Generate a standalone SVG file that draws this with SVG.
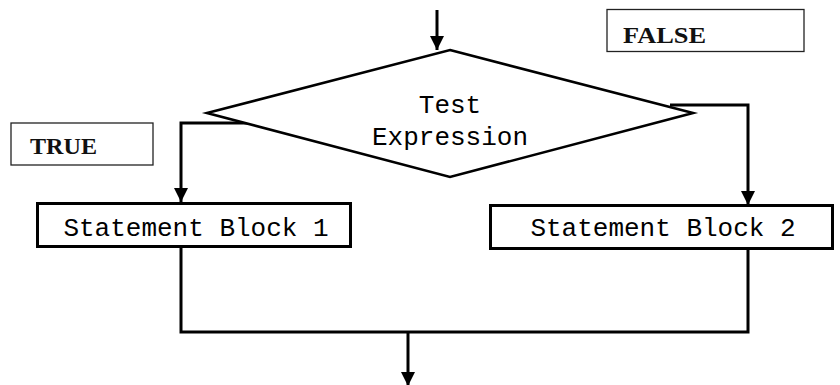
<svg xmlns="http://www.w3.org/2000/svg" width="840" height="385" viewBox="0 0 840 385">
<defs>
<marker id="arr" markerWidth="16" markerHeight="14" refX="14" refY="7" orient="auto" markerUnits="userSpaceOnUse">
<path d="M0,0 L14,7 L0,14 Z" fill="#000"/>
</marker>
<style>
.lbl{fill:#fff;stroke:#222;stroke-width:1.3}
.blk{fill:#fff;stroke:#000;stroke-width:3}
.dia{fill:#fff;stroke:#000;stroke-width:2.6;stroke-linejoin:miter}
.ser{font-family:"Liberation Serif","Times New Roman",serif;font-weight:bold;font-size:24px;fill:#111}
.mono{font-family:"Liberation Mono","Courier New",monospace;font-size:26px;fill:#000}
.con{fill:none;stroke:#000;stroke-width:3}
</style>
</defs>
<rect width="840" height="385" fill="#fff"/>
<g id="connectors">
<path class="con" d="M437,10 V50" marker-end="url(#arr)"/>
<path class="con" d="M264,123 H181 V202" marker-end="url(#arr)"/>
<path class="con" d="M670,105 H748 V205" marker-end="url(#arr)"/>
<path class="con" d="M181,247 V332 H748 V248"/>
<path class="con" d="M408,332 V386" marker-end="url(#arr)"/>
</g>
<g id="true-label">
<rect class="lbl" x="11" y="123" width="142" height="42"/>
<text class="ser" x="30" y="154" textLength="67" lengthAdjust="spacingAndGlyphs">TRUE</text>
</g>
<g id="false-label">
<rect class="lbl" x="607" y="9.5" width="197" height="42"/>
<text class="ser" x="623" y="43" textLength="83" lengthAdjust="spacingAndGlyphs">FALSE</text>
</g>
<g id="test">
<polygon class="dia" points="450,50 693,113 450,177 207,113"/>
<text class="mono" x="450" y="113" text-anchor="middle">Test</text>
<text class="mono" x="450" y="145" text-anchor="middle">Expression</text>
</g>
<g id="block1">
<rect class="blk" x="37.5" y="203.5" width="313" height="43"/>
<text class="mono" x="196" y="236" text-anchor="middle">Statement Block 1</text>
</g>
<g id="block2">
<rect class="blk" x="490.5" y="205.5" width="342" height="43"/>
<text class="mono" x="663" y="236" text-anchor="middle">Statement Block 2</text>
</g>
</svg>
